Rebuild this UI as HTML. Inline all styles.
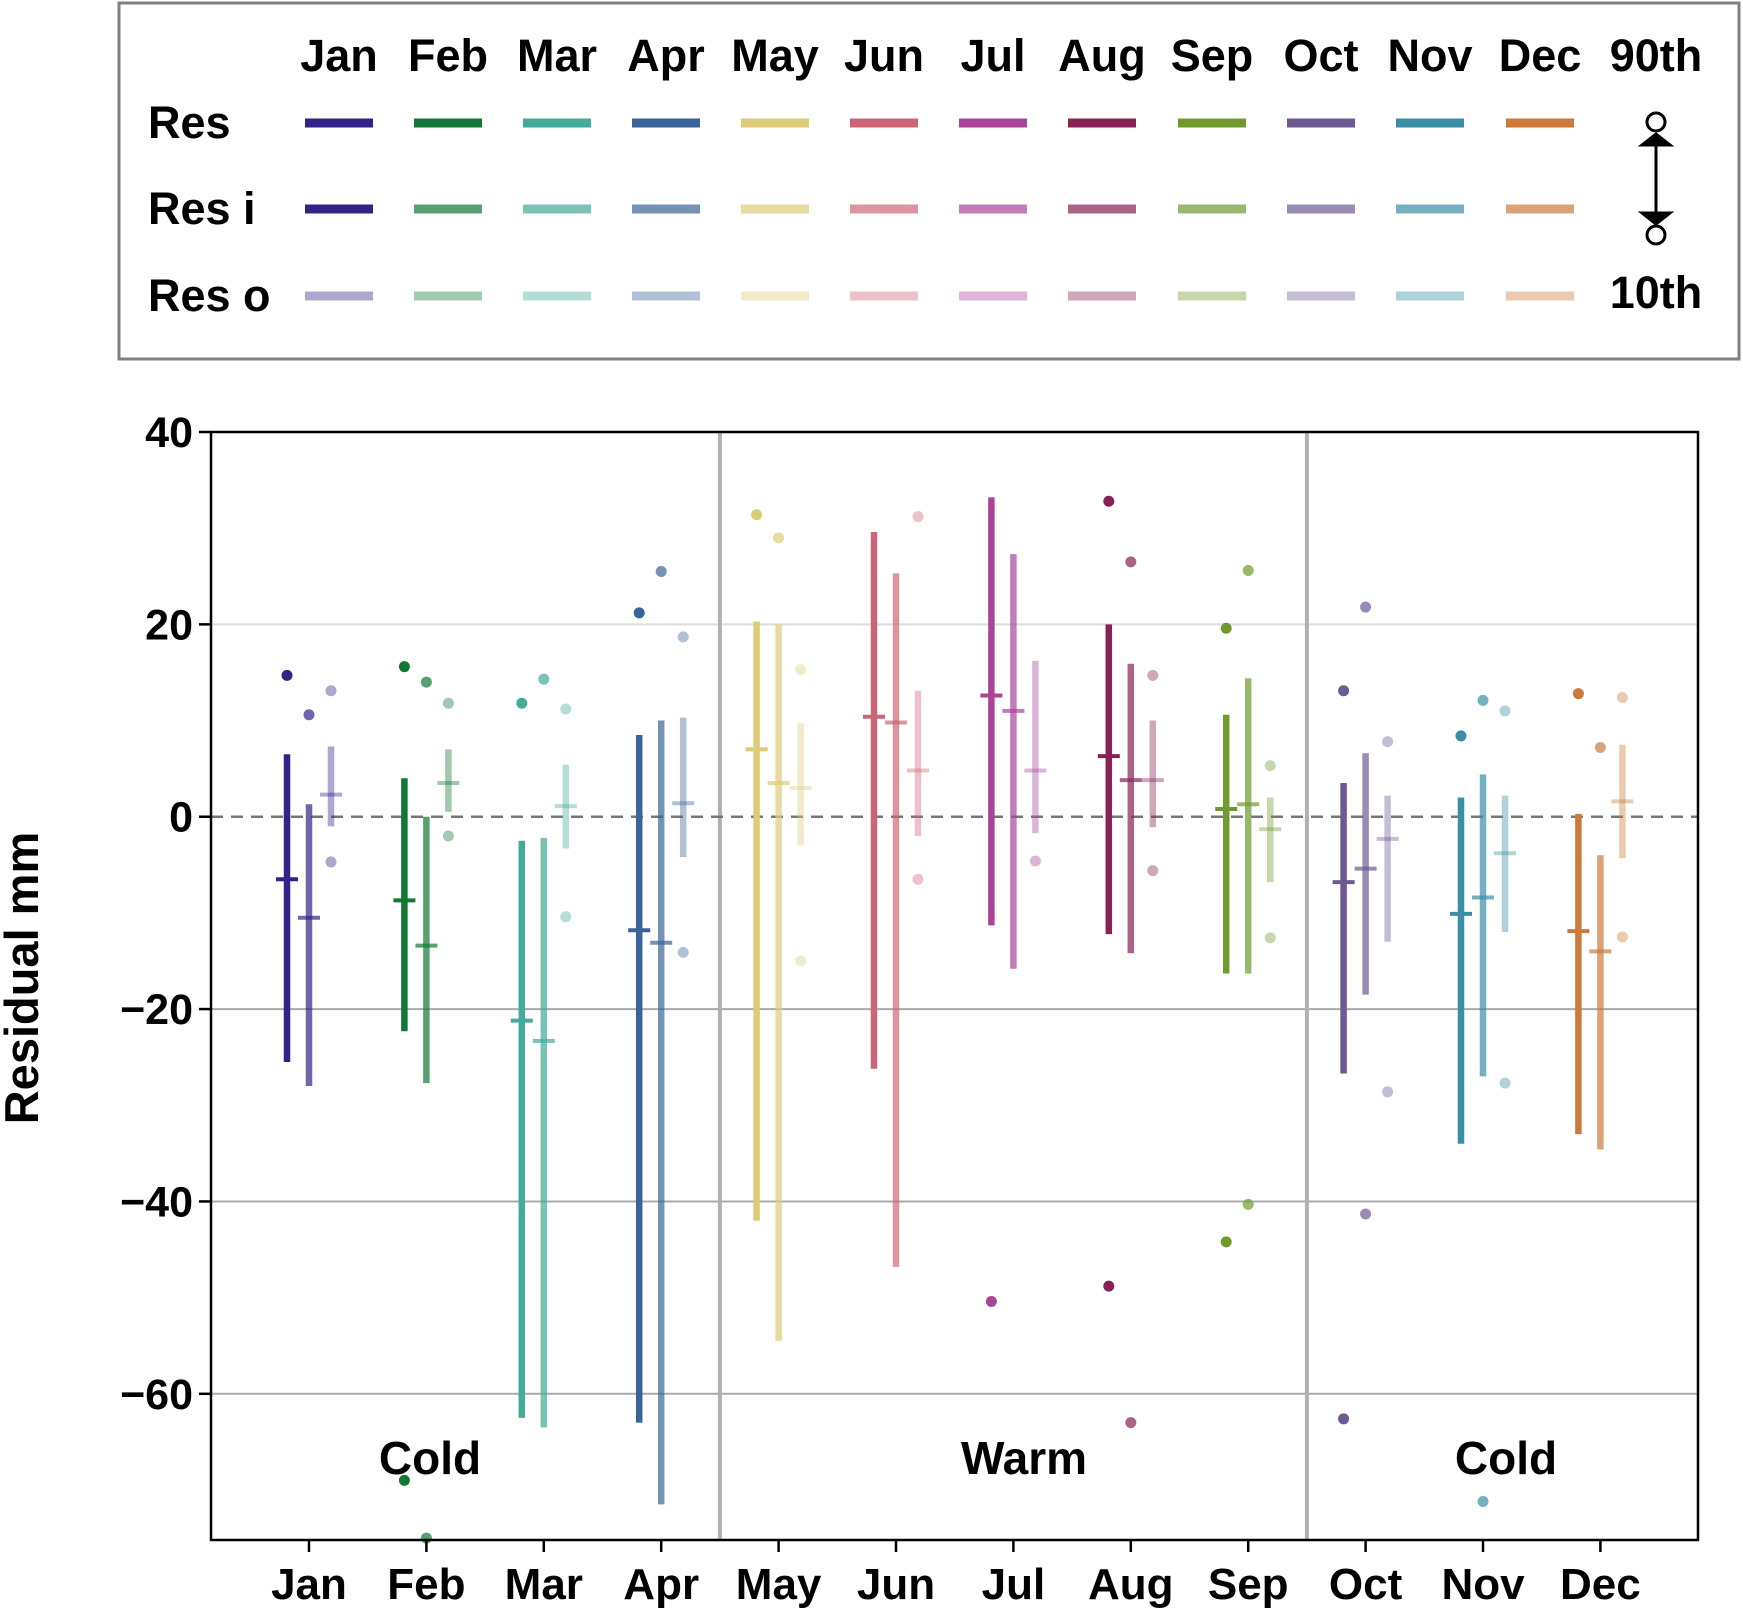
<!DOCTYPE html>
<html><head><meta charset="utf-8"><style>
body{margin:0;background:#fff}
svg{display:block;font-family:"Liberation Sans",Arial,sans-serif;font-weight:bold}
</style></head><body>
<svg id="chart" width="1743" height="1614" viewBox="0 0 1743 1614" xmlns="http://www.w3.org/2000/svg">
<rect x="119" y="3" width="1620" height="356" fill="#fff" stroke="#808080" stroke-width="3"/>
<g id="legend"></g>
<g id="plot"></g>
</svg>
<script>
const months=["Jan","Feb","Mar","Apr","May","Jun","Jul","Aug","Sep","Oct","Nov","Dec"];
const colors=["#332288","#117733","#44AA99","#3b6496","#DDCC77","#CC6677","#AA4499","#882255","#6f9a2e","#6e5a92","#3a8ea6","#cc7a3a"];
const resLo=[-25.5,-22.3,-62.5,-63,-42,-26.2,-11.3,-12.2,-16.3,-26.7,-34,-33];
const resHi=[6.5,4,-2.5,8.5,20.3,29.6,33.2,20,10.6,3.5,2,0.3];
const resMed=[-6.5,-8.7,-21.2,-11.8,7,10.4,12.6,6.3,0.8,-6.8,-10.1,-11.9];
const resiLo=[-28,-27.7,-63.5,-71.5,-54.5,-46.8,-15.8,-14.2,-16.3,-18.5,-27,-34.6];
const resiHi=[1.3,0,-2.2,10,20,25.3,27.3,15.9,14.4,6.6,4.4,-4];
const resiMed=[-10.5,-13.4,-23.3,-13.1,3.5,9.8,11,3.8,1.3,-5.4,-8.4,-14];
const resoLo=[-1,0.5,-3.3,-4.2,-3,-2,-1.7,-1.1,-6.8,-13,-12,-4.3];
const resoHi=[7.3,7,5.4,10.3,9.7,13.1,16.2,10,2,2.2,2.2,7.5];
const resoMed=[2.3,3.5,1.1,1.4,3,4.8,4.8,3.8,-1.3,-2.3,-3.8,1.6];
const resDots=[[14.7],[15.6,-69],[11.8],[21.2],[31.4],[],[-50.4],[32.8,-48.8],[19.6,-44.2],[13.1,-62.6],[8.4],[12.8]];
const resiDots=[[10.6],[14,-75],[14.3],[25.5],[29],[],[],[26.5,-63],[25.6,-40.3],[21.8,-41.3],[12.1,-71.2],[7.2]];
const resoDots=[[13.1,-4.7],[11.8,-2],[11.2,-10.4],[18.7,-14.1],[15.3,-15],[31.2,-6.5],[-4.6],[14.7,-5.6],[5.3,-12.6],[7.8,-28.6],[11,-27.7],[12.4,-12.5]];
const yTicks=[40,20,0,-20,-40,-60];
const NS="http://www.w3.org/2000/svg";
const L=211,R=1698,T=432,B=1540;
const yMin=-75.2,yMax=40;
function y(v){return B-(v-yMin)/(yMax-yMin)*(B-T);}
function x(i){return 309+i*117.4;}
function mk(parent,tag,attrs,text){const e=document.createElementNS(NS,tag);for(const k in attrs)e.setAttribute(k,attrs[k]);if(text!==undefined)e.textContent=text;parent.appendChild(e);return e;}
const plot=document.getElementById('plot');
const leg=document.getElementById('legend');
yTicks.forEach(t=>{if(t!==40&&t!==0){const g=mk(plot,'line',{x1:L,x2:R,y1:y(t),y2:y(t),stroke:t===20?'#ddd':'#aaa','stroke-width':2});

}});
[3.5,8.5].forEach(d=>{const e=mk(plot,'line',{x1:x(d),x2:x(d),y1:T,y2:B,stroke:'#b0b0b0','stroke-width':4});

});
const zl=mk(plot,'line',{x1:L,x2:R,y1:y(0),y2:y(0),stroke:'#777','stroke-width':2.5,'stroke-dasharray':'12 8'});


const series=[{lo:resLo,hi:resHi,med:resMed,dots:resDots,off:-22,op:1,w:6.5,n:'res'},{lo:resiLo,hi:resiHi,med:resiMed,dots:resiDots,off:0,op:0.7,w:6.5,n:'res-i'},{lo:resoLo,hi:resoHi,med:resoMed,dots:resoDots,off:22,op:0.4,w:6.5,n:'res-o'}];
months.forEach((m,i)=>{series.forEach(s=>{const cx=x(i)+s.off;
const b=mk(plot,'line',{x1:cx,x2:cx,y1:y(s.lo[i]),y2:y(s.hi[i]),stroke:colors[i],'stroke-opacity':s.op,'stroke-width':s.w});


const md=mk(plot,'line',{x1:cx-11,x2:cx+11,y1:y(s.med[i]),y2:y(s.med[i]),stroke:colors[i],'stroke-opacity':s.op,'stroke-width':4});


s.dots[i].forEach(v=>{if(v<yMin-1)return;const c=mk(plot,'circle',{cx:cx,cy:y(v),r:5.5,fill:colors[i],'fill-opacity':s.op});

});});
const tk=mk(plot,'line',{x1:x(i),x2:x(i),y1:B,y2:B+12,stroke:'#000','stroke-width':2.5});


const tl=mk(plot,'text',{x:x(i),y:B+59,'text-anchor':'middle','font-size':44},m);

});
yTicks.forEach(t=>{const tk=mk(plot,'line',{x1:L-12,x2:L,y1:y(t),y2:y(t),stroke:'#000','stroke-width':2.5});


const tl=mk(plot,'text',{x:L-18,y:y(t)+15,'text-anchor':'end','font-size':43},t<0?'\u2212'+(-t):String(t));

});
const fr=mk(plot,'rect',{x:L,y:T,width:R-L,height:B-T,fill:'none',stroke:'#000','stroke-width':2.5});


const yl=mk(plot,'text',{x:0,y:0,transform:'translate(38,978) rotate(-90)','text-anchor':'middle','font-size':47},'Residual mm');


[["Cold",430],["Warm",1024],["Cold",1506]].forEach(p=>{const t=mk(plot,'text',{x:p[1],y:1474,'text-anchor':'middle','font-size':46},p[0]);

});
const colX=[339,448,557,666,775,884,993,1102,1212,1321,1430,1540];
const rows=[["Res",123,1],["Res i",209,0.7],["Res o",296,0.4]];
months.forEach((m,i)=>{const h=mk(leg,'text',{x:colX[i],y:71,'text-anchor':'middle','font-size':45},m);


rows.forEach(r=>{const op=(i===0&&r[2]===0.7)?1:r[2];const s=mk(leg,'line',{x1:colX[i]-34,x2:colX[i]+34,y1:r[1],y2:r[1],stroke:colors[i],'stroke-opacity':op,'stroke-width':9});

});});
rows.forEach(r=>{const t=mk(leg,'text',{x:148,y:r[1]+15,'font-size':45},r[0]);

});
const t90=mk(leg,'text',{x:1656,y:71,'text-anchor':'middle','font-size':45},'90th');


const t10=mk(leg,'text',{x:1656,y:308,'text-anchor':'middle','font-size':45},'10th');


const arr=mk(leg,'g',{stroke:'#000','stroke-width':3,fill:'none'});


mk(arr,'circle',{cx:1656,cy:122,r:9});
mk(arr,'circle',{cx:1656,cy:235,r:9});
mk(arr,'line',{x1:1656,x2:1656,y1:138,y2:218});
mk(arr,'path',{d:'M1642,145 L1656,134 L1670,145 Z',fill:'#000'});
mk(arr,'path',{d:'M1642,213 L1656,224 L1670,213 Z',fill:'#000'});
</script>
</body></html>
